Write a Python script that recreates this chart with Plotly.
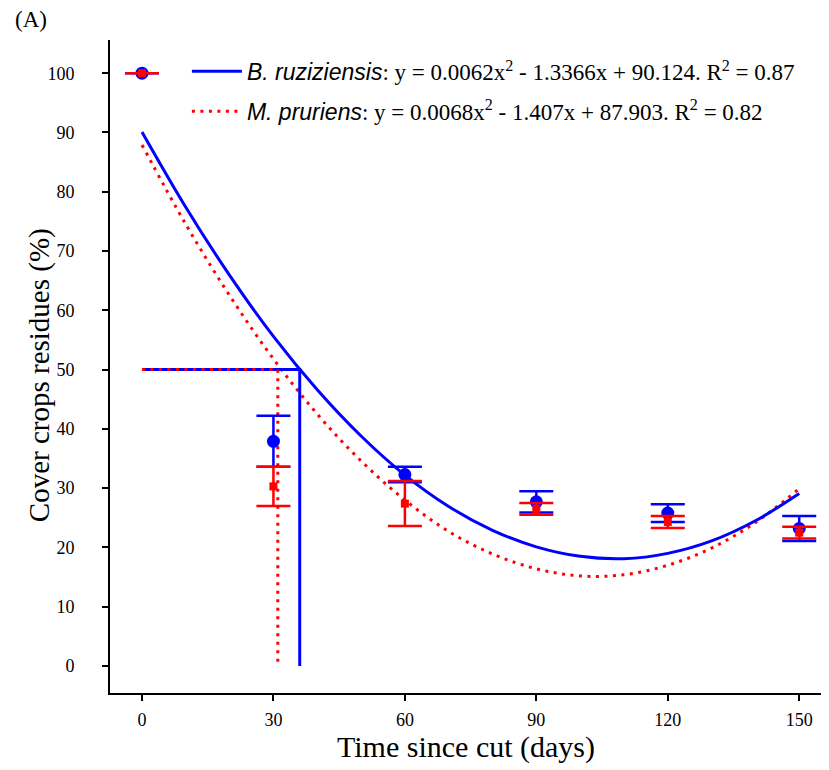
import plotly.graph_objects as go

# ---- data ----
days = [0, 30, 60, 90, 120, 150]
brz_mean = [100, 37.9, 32.3, 27.7, 25.8, 23.2]
brz_err = [0, 4.3, 1.3, 1.8, 1.5, 2.1]
mpr_mean = [100, 30.3, 27.4, 26.5, 24.3, 22.5]
mpr_err = [0, 3.3, 3.8, 1.0, 1.0, 1.0]

# fitted curves, read at 10-day steps
fit_x = [0, 10, 20, 30, 40, 50, 60, 70, 80, 90, 100, 110, 120, 130, 140, 150]
brz_fit = [90.1, 77.4, 65.9, 55.6, 46.6, 38.8, 32.2, 26.9, 22.9, 20.1, 18.5, 18.1, 19.0, 21.1, 24.5, 29.1]
mpr_fit = [87.9, 74.5, 62.5, 51.8, 42.5, 34.6, 28.0, 22.7, 18.9, 16.4, 15.2, 15.4, 17.0, 19.9, 24.2, 29.9]

# 50 % residue time (half-life) guides
brz_half_x = [0, 36, 36]
brz_half_y = [50, 50, 0]
mpr_half_x = [0, 31, 31]
mpr_half_y = [50, 50, 0]

x_ticks = [0, 30, 60, 90, 120, 150]
y_ticks = [0, 10, 20, 30, 40, 50, 60, 70, 80, 90, 100]

BLUE = "#0000ff"
RED = "#ff0000"
SERIF = "Liberation Serif, Times New Roman, serif"
DOT = "3px,5.5px"

fig = go.Figure()

fig.add_trace(go.Scatter(
    x=fit_x, y=mpr_fit, mode="lines", line=dict(color=RED, width=3, dash=DOT, shape="spline"),
    name='<span style="font-family:Liberation Sans"><i>M. pruriens</i></span>: y = 0.0068x<sup>2</sup> - 1.407x + 87.903. R<sup>2</sup> = 0.82',
    legendrank=2, legendgroup="m"))
fig.add_trace(go.Scatter(
    x=fit_x, y=brz_fit, mode="lines", line=dict(color=BLUE, width=3, shape="spline"),
    name='<span style="font-family:Liberation Sans"><i>B. ruziziensis</i></span>: y = 0.0062x<sup>2</sup> - 1.3366x + 90.124. R<sup>2</sup> = 0.87',
    legendrank=1, legendgroup="b"))

fig.add_trace(go.Scatter(x=brz_half_x, y=brz_half_y, mode="lines",
                         line=dict(color=BLUE, width=3), showlegend=False))
fig.add_trace(go.Scatter(x=mpr_half_x, y=mpr_half_y, mode="lines",
                         line=dict(color=RED, width=3, dash=DOT), showlegend=False))

fig.add_trace(go.Scatter(
    x=days, y=brz_mean, mode="markers",
    marker=dict(color=BLUE, size=13, symbol="circle"),
    error_y=dict(type="data", array=brz_err, color=BLUE, thickness=2.5, width=17),
    showlegend=False))
fig.add_trace(go.Scatter(
    x=days, y=mpr_mean, mode="markers",
    marker=dict(color=RED, size=8, symbol="square"),
    error_y=dict(type="data", array=mpr_err, color=RED, thickness=2.5, width=17),
    showlegend=False))

fig.add_annotation(text="(A)", xref="paper", yref="paper", x=-0.136, y=1.031,
                   xanchor="left", yanchor="middle", showarrow=False,
                   font=dict(family=SERIF, size=23, color="black"))

fig.add_annotation(text="Cover crops residues (%)", xref="paper", yref="paper",
                   x=-0.098, y=0.487, xanchor="center", yanchor="middle",
                   textangle=-90, showarrow=False,
                   font=dict(family=SERIF, size=29, color="black"))

fig.update_layout(
    width=821, height=762,
    margin=dict(l=102, r=7, t=32, b=77),
    plot_bgcolor="white", paper_bgcolor="white",
    font=dict(family=SERIF, color="black"),
    legend=dict(x=0.108, y=0.985, xanchor="left", yanchor="top",
                font=dict(family=SERIF, size=23, color="black"),
                bgcolor="rgba(0,0,0,0)", tracegroupgap=7, itemwidth=50),
    xaxis=dict(range=[-7.3, 155.2], tickvals=x_ticks, showgrid=False, zeroline=False,
               showline=True, linecolor="black", linewidth=2,
               ticks="outside", ticklen=6, tickwidth=2, tickcolor="black",
               tickfont=dict(family=SERIF, size=18), ticklabelstandoff=3,
               title=dict(text="Time since cut (days)", font=dict(family=SERIF, size=30), standoff=6)),
    yaxis=dict(range=[-4.55, 105.6], tickvals=y_ticks, showgrid=False, zeroline=False,
               showline=True, linecolor="black", linewidth=2,
               ticks="outside", ticklen=6, tickwidth=2, tickcolor="black",
               tickfont=dict(family=SERIF, size=18), ticklabelstandoff=24),
)

fig.write_html("out.html")
